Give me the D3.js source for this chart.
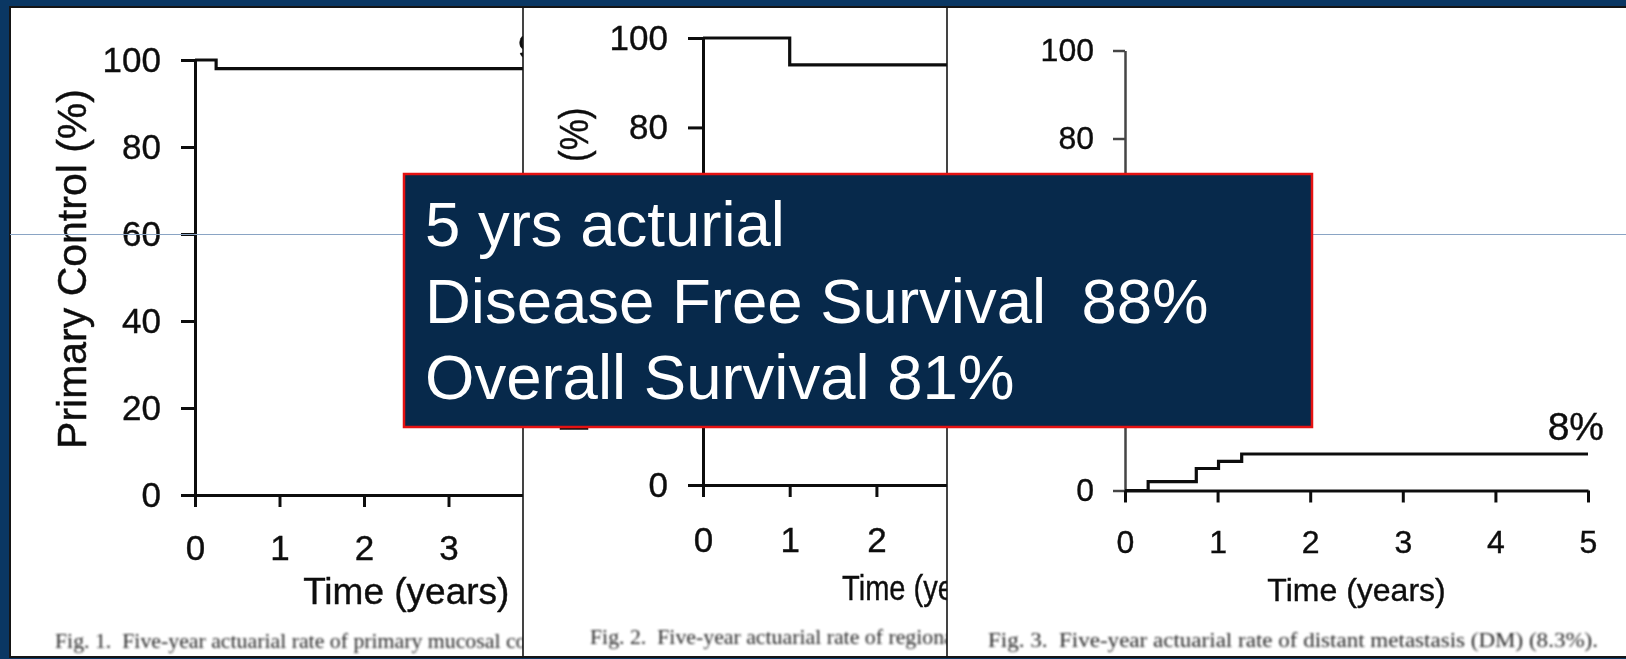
<!DOCTYPE html>
<html>
<head>
<meta charset="utf-8">
<script src="https://cdn.jsdelivr.net/npm/d3@7"></script>
<style>
  html, body { margin: 0; padding: 0; background: #0a3763; }
  svg { display: block; }
</style>
</head>
<body>
<svg id="chart" width="1626" height="659"></svg>
<script>
// ---- data ----
const yearTicks = [0, 1, 2, 3, 4, 5];
const percentTicks = [0, 20, 40, 60, 80, 100];

// Fig. 1: primary mucosal control (Kaplan-Meier style steps)
const primaryTimes  = [0, 0.25, 5];
const primaryValues = [100, 98, 98];

// Fig. 2: regional control
const regionalTimes  = [0, 1, 5];
const regionalValues = [100, 94, 94];

// Fig. 3: cumulative distant metastasis
const dmTimes  = [0, 0.25, 0.77, 1.01, 1.26, 5];
const dmValues = [0, 2.0, 5.0, 6.6, 8.3, 8.3];

const captions = [
  "Fig. 1.  Five-year actuarial rate of primary mucosal control.",
  "Fig. 2.  Five-year actuarial rate of regional control.",
  "Fig. 3.  Five-year actuarial rate of distant metastasis (DM) (8.3%)."
];

const summaryLines = [
  "5 yrs acturial",
  "Disease Free Survival  88%",
  "Overall Survival 81%"
];

// ---- drawing ----
const W = 1626, H = 659;
const SANS = "'Liberation Sans', Arial, Helvetica, sans-serif";
const SERIF = "'Liberation Serif', 'Times New Roman', serif";

const svg = d3.select("#chart");
const defs = svg.append("defs");
defs.append("filter").attr("id", "soft")
  .append("feGaussianBlur").attr("stdDeviation", 0.55);
defs.append("filter").attr("id", "softer")
  .append("feGaussianBlur").attr("stdDeviation", 0.8);

// slide frame
svg.append("rect").attr("width", W).attr("height", H).attr("fill", "#0a3763");
svg.append("rect")
  .attr("x", 10).attr("y", 7).attr("width", W).attr("height", 650)
  .attr("fill", "#fff").attr("stroke", "#151515").attr("stroke-width", 2);

const toPoints = (ts, vs) => ts.map((t, i) => [t, vs[i]]);

// scanned-figure text looks slightly heavy
const inked = sel => sel.attr("fill", "#111")
  .attr("stroke", "#111").attr("stroke-width", 0.4);

function drawPanel(o) {
  defs.append("clipPath").attr("id", o.id)
    .append("rect")
    .attr("x", o.left).attr("y", 8)
    .attr("width", o.right - o.left).attr("height", 648);

  const outer = svg.append("g").attr("clip-path", `url(#${o.id})`);
  outer.append("rect")
    .attr("x", o.left).attr("y", 8)
    .attr("width", o.right - o.left).attr("height", 648)
    .attr("fill", "#fff");

  const g = outer.append("g").attr("filter", "url(#soft)");

  const x = d3.scaleLinear().domain([0, 5]).range([o.x0, o.x0 + 5 * o.perYear]);
  const y = d3.scaleLinear().domain([0, 100]).range([o.y0, o.y100]);

  const yAxis = g.append("g")
    .attr("transform", `translate(${o.x0},0)`)
    .call(d3.axisLeft(y).tickValues(percentTicks).tickFormat(d3.format("d"))
      .tickSize(o.yTick).tickSizeOuter(0).tickPadding(o.yPad));
  const xAxis = g.append("g")
    .attr("transform", `translate(0,${o.y0})`)
    .call(d3.axisBottom(x).tickValues(yearTicks).tickFormat(d3.format("d"))
      .tickSize(12).tickSizeOuter(0).tickPadding(o.xPad));

  [yAxis, xAxis].forEach(a => {
    a.selectAll("path, line")
      .attr("stroke", "#111").attr("stroke-width", 3);
    a.selectAll("text")
      .call(inked)
      .style("font-family", SANS)
      .style("font-size", o.tickFont + "px");
  });
  if (o.yAxisColor) {
    yAxis.selectAll("path, line").attr("stroke", o.yAxisColor).attr("stroke-width", 2.5);
  }

  // survival / incidence curve
  g.append("path")
    .datum(toPoints(o.times, o.values))
    .attr("fill", "none")
    .attr("stroke", "#111")
    .attr("stroke-width", 3.2)
    .attr("d", d3.line().x(d => x(d[0])).y(d => y(d[1])).curve(d3.curveStepAfter));

  // axis titles
  const xt = g.append("text")
    .attr("x", o.xTitleX(x)).attr("y", o.xTitleY)
    .attr("text-anchor", o.xTitleAnchor || "middle")
    .call(inked)
    .style("font-family", SANS).style("font-size", o.xTitleFont + "px")
    .text("Time (years)");
  if (o.xTitleLen) xt.attr("textLength", o.xTitleLen).attr("lengthAdjust", "spacingAndGlyphs");

  if (o.yTitle) {
    const t = g.append("text")
      .attr("transform", `translate(${o.yTitleX},${o.yTitleY}) rotate(-90)`)
      .attr("text-anchor", "middle")
      .call(inked)
      .style("font-family", SANS).style("font-size", o.yTitleFont + "px")
      .text(o.yTitle);
    if (o.yTitleLen) t.attr("textLength", o.yTitleLen).attr("lengthAdjust", "spacingAndGlyphs");
  }

  // end-of-curve value label
  if (o.endLabel) {
    const last = o.values[o.values.length - 1];
    g.append("text")
      .attr("x", o.endLabel.x(x)).attr("y", y(last) - o.endLabel.dy)
      .attr("text-anchor", o.endLabel.anchor)
      .call(inked)
      .style("font-family", SANS).style("font-size", o.endLabel.font + "px")
      .text(d3.format(".0f")(last) + "%");
  }

  // figure caption
  const c = outer.append("text")
    .attr("x", o.capX).attr("y", o.capY)
    .attr("fill", "#2a2a2a")
    .attr("filter", "url(#softer)")
    .style("font-family", SERIF).style("font-size", o.capFont + "px")
    .style("white-space", "pre")
    .text(o.caption);
  if (o.capLen) c.attr("textLength", o.capLen).attr("lengthAdjust", "spacingAndGlyphs");

  // left border of an overlapping figure
  if (o.border) {
    svg.append("line")
      .attr("x1", o.left).attr("x2", o.left)
      .attr("y1", 7).attr("y2", 657)
      .attr("stroke", "#151515").attr("stroke-width", 1.6);
  }
}

drawPanel({
  id: "fig1", left: 11, right: 523,
  x0: 195, perYear: 84.5, y0: 495, y100: 60,
  yTick: 14, yPad: 20, xPad: 28, tickFont: 35,
  times: primaryTimes, values: primaryValues,
  xTitleX: x => x(2.5), xTitleY: 604, xTitleFont: 37,
  yTitle: "Primary Control (%)", yTitleX: 86, yTitleY: 269, yTitleFont: 41,
  endLabel: { x: () => 518, dy: 11, anchor: "start", font: 34 },
  caption: captions[0], capX: 55, capY: 648, capFont: 21.8
});

drawPanel({
  id: "fig2", left: 523, right: 947, border: true,
  x0: 703, perYear: 86.7, y0: 485, y100: 38,
  yTick: 15, yPad: 20, xPad: 30, tickFont: 35,
  times: regionalTimes, values: regionalValues,
  xTitleX: () => 842, xTitleAnchor: "start", xTitleY: 600, xTitleFont: 35, xTitleLen: 162,
  yTitle: "Regional Control (%)", yTitleX: 588, yTitleY: 270, yTitleFont: 40, yTitleLen: 325,
  caption: captions[1], capX: 590, capY: 644, capFont: 21.8
});

drawPanel({
  id: "fig3", left: 947, right: W, border: true,
  x0: 1125, perYear: 92.6, y0: 490.5, y100: 50.5,
  yTick: 12, yPad: 19, xPad: 28, tickFont: 32, yAxisColor: "#444",
  times: dmTimes, values: dmValues,
  xTitleX: x => x(2.5), xTitleY: 601, xTitleFont: 32,
  endLabel: { x: x => x(5) + 16, dy: 14, anchor: "end", font: 39 },
  caption: captions[2], capX: 988, capY: 647, capFont: 20, capLen: 610
});

// slide guide line
svg.append("line")
  .attr("x1", 10).attr("x2", W)
  .attr("y1", 234.5).attr("y2", 234.5)
  .attr("stroke", "#8aa4c4").attr("stroke-width", 1.2);

// summary call-out box
const box = svg.append("g");
box.append("rect")
  .attr("x", 404).attr("y", 174).attr("width", 908).attr("height", 253)
  .attr("fill", "#07294b").attr("stroke", "#e51212").attr("stroke-width", 2.5);
box.selectAll("text.summary")
  .data(summaryLines)
  .join("text")
  .attr("class", "summary")
  .attr("x", 425)
  .attr("y", (d, i) => 246 + i * 76.5)
  .attr("fill", "#fff")
  .style("font-family", SANS)
  .style("font-size", "63.5px")
  .style("white-space", "pre")
  .text(d => d);
</script>
</body>
</html>
